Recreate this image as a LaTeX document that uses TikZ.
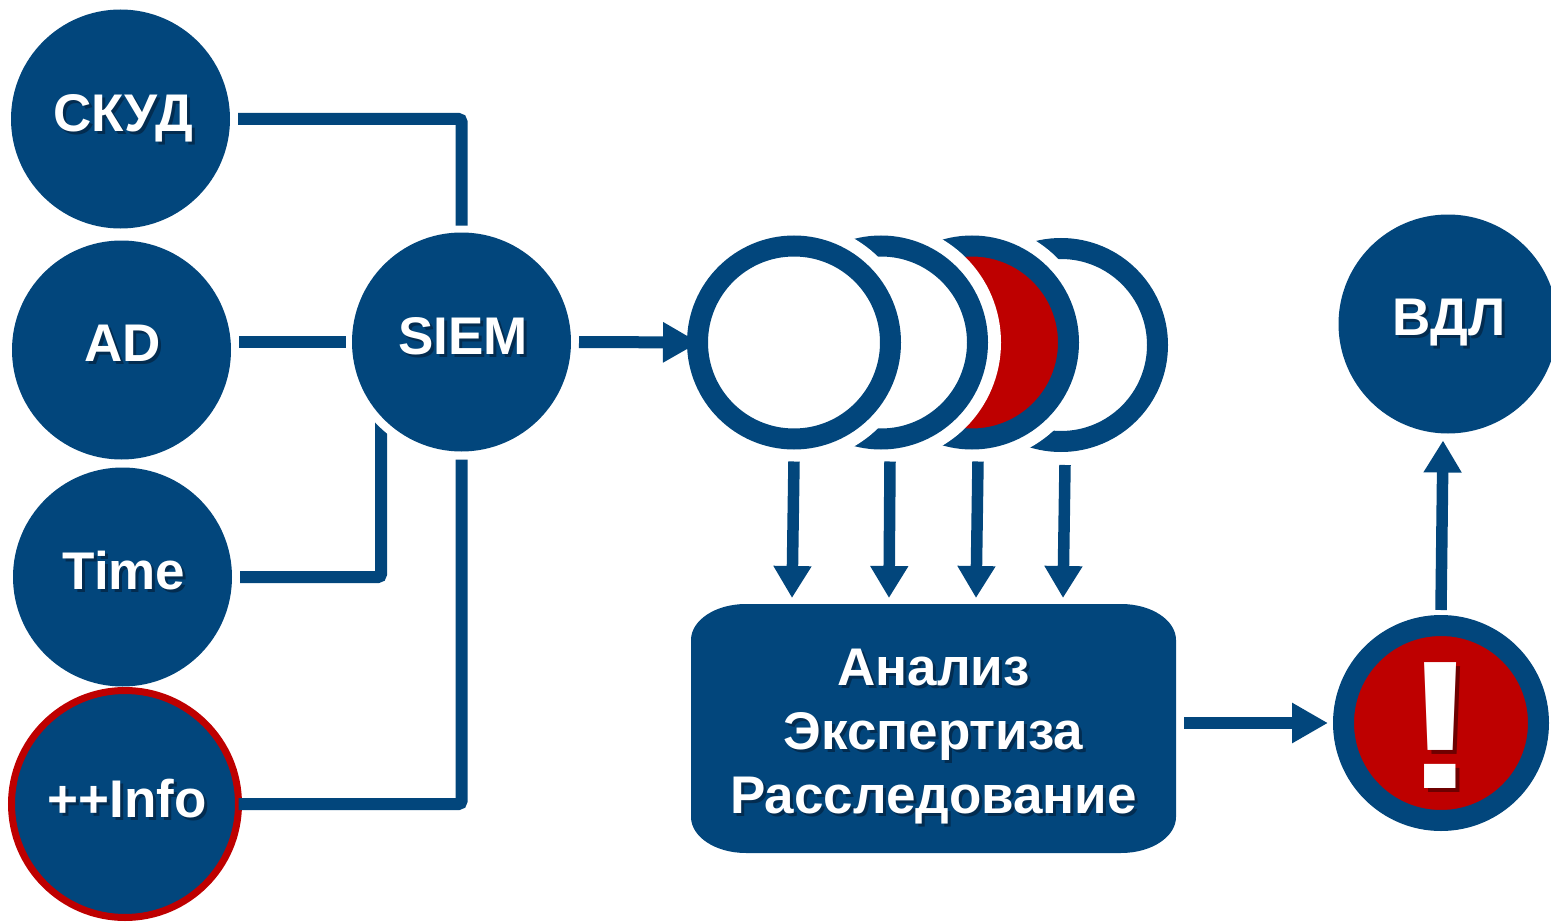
\documentclass[tikz,border=0pt]{standalone}
\usepackage{fontspec}
\setmainfont{Liberation Sans}
\usetikzlibrary{arrows.meta,backgrounds,calc}
\definecolor{bblue}{HTML}{02467C}
\definecolor{rred}{HTML}{BE0000}
\definecolor{shblue}{HTML}{032C50}
\definecolor{shred}{HTML}{6E0000}
% label placed with its baseline at (dx,dy) from the centre of the node, with a drop shadow
\newcommand{\lab}[5][shblue]{\makebox[0pt]{\hspace*{\dimexpr 2\dimexpr #2pt\relax\relax}\raisebox{#3pt}[0pt][0pt]{\rlap{\kern #4pt\raisebox{-#4pt}{\color{#1}#5}}\color{white}#5}}}
\tikzset{
  disc/.style={circle,fill=bblue,minimum size=219pt,inner sep=0pt,outer sep=0pt,font=\fontsize{53}{60}\selectfont\bfseries},
  ringn/.style={circle,draw=bblue,line width=21pt,fill=white,minimum size=193pt,inner sep=0pt,outer sep=10.5pt,
     preaction={draw=white,line width=47pt}},
  conn/.style={draw=bblue,line width=12pt,rounded corners=3pt},
  arr/.style={draw=bblue,line width=11.5pt,-{Triangle[length=32pt,width=36pt,sep=0pt]}},
}
\begin{document}
\begin{tikzpicture}[x=1pt,y=-1pt]
\useasboundingbox (0,0) rectangle (1551,923);
% sources
\node[disc] (skud) at (120.5,119) {\lab{2.5}{-12.7}{3}{СКУД}};
\node[disc] (ad) at (121.5,350) {\lab{1.5}{-11}{3}{AD}};
\node[disc] (time) at (122.5,577) {\lab{1.5}{-12}{3}{Time}};
\node[disc,draw=rred,line width=7pt,minimum size=227pt] (info) at (125,804) {\lab{2}{-13}{3}{++Info}};
\node[disc,preaction={draw=white,line width=17pt}] (siem) at (461.5,342) {\lab{1.5}{-12}{3}{SIEM}};
\node[disc] (vdl) at (1448,324) {\lab{1}{-11}{3}{ВДЛ}};
% stacked rings
\node[ringn] (r4) at (1061,345) {};
\node[ringn,fill=rred] (r3) at (972,342.5) {};
\node[ringn] (r2) at (881,342.5) {};
\node[ringn] (r1) at (794,342.5) {};
% box with elliptical corners
\fill[bblue] (691,640) .. controls (691,620.5) and (715,604) .. (746,604) -- (1121,604)
  .. controls (1152,604) and (1176,620.5) .. (1176,640) -- (1176,817)
  .. controls (1176,836.5) and (1152,853) .. (1121,853) -- (746,853)
  .. controls (715,853) and (691,836.5) .. (691,817) -- cycle;
\node[minimum width=485pt,minimum height=249pt,inner sep=0pt,outer sep=0pt,font=\fontsize{53}{60}\selectfont\bfseries] (box) at (933.5,728.5)
  {\lab{0}{43.5}{3}{Анализ}\lab{0}{-20.5}{3}{Экспертиза}\lab{0}{-84.5}{3}{Расследование}};
% alert
\node[circle,draw=bblue,fill=rred,line width=21pt,minimum size=195pt,inner sep=0pt,outer sep=10.5pt,font=\fontsize{183}{186}\selectfont\bfseries] (alert) at (1441,723)
  {\lab[shred]{0}{-65}{4}{\scalebox{1.22}[1]{!}}};
% connectors
\begin{scope}[on background layer]
\draw[conn] ([xshift=8pt]time.east) -| ([xshift=-80.5pt]siem.center);
\end{scope}
\draw[conn] ([xshift=8pt]skud.east) -| ([yshift=7pt]siem.north);
\draw[conn] ([xshift=8pt]ad.east |- siem.west) -- ([xshift=-6pt]siem.west);
\draw[conn] (info.east) -| ([yshift=-8pt]siem.south);
\begin{scope}[even odd rule]
\clip (0,0) rectangle (1551,923) (r1.center) circle[radius=107pt];
\draw[arr,line width=12pt,-{Triangle[length=36pt,width=38pt,sep=0pt]}] ([xshift=8pt]siem.east) -- ([xshift=12pt]r1.west);
\end{scope}
\draw[arr] ([shift={(0,12)}]r1.south) -- ([shift={(-141.5,-6)}]box.north);
\draw[arr] ([shift={(9,12)}]r2.south) -- ([shift={(-44.5,-6)}]box.north);
\draw[arr] ([shift={(6,12)}]r3.south) -- ([shift={(42.5,-6)}]box.north);
\draw[arr] ([shift={(4,13)}]r4.south) -- ([shift={(129.5,-6)}]box.north);
\draw[arr,line width=12pt,-{Triangle[length=36pt,width=38pt,sep=0pt]}] ([xshift=8pt]box.east |- alert.west) -- ([xshift=-5pt]alert.west);
\draw[arr] ([shift={(0,-5)}]alert.north) -- ([shift={(-5,7)}]vdl.south);
\end{tikzpicture}
\end{document}
